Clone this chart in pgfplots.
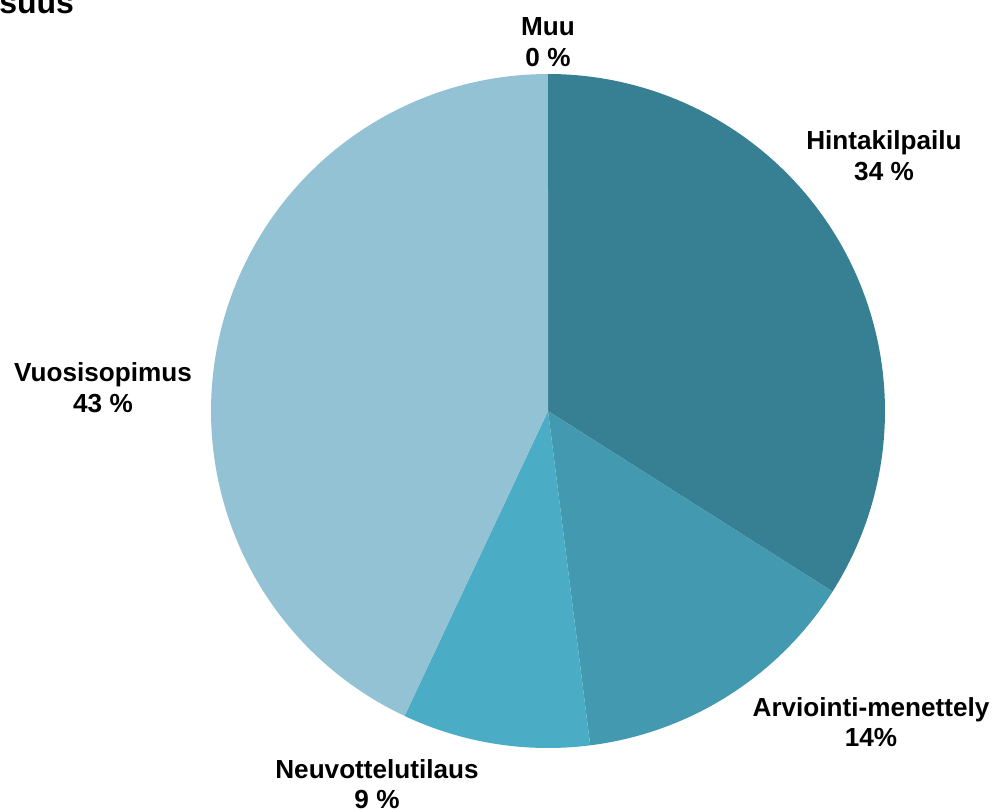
\documentclass[border=0pt]{standalone}
\usepackage{pgfplots}
\pgfplotsset{compat=1.18}
\usepackage{fontspec}
\setmainfont{Liberation Sans}

\definecolor{cHinta}{HTML}{377F93}
\definecolor{cArvio}{HTML}{4399AF}
\definecolor{cNeuvo}{HTML}{4BACC6}
\definecolor{cVuosi}{HTML}{93C2D4}

% shares in percent, clockwise from the top
\def\pHinta{34}
\def\pArvio{14}
\def\pNeuvo{9}
\def\pVuosi{43}
\def\pMuu{0}

\tikzset{lbl/.style = {font=\fontsize{19.6}{23}\selectfont\bfseries, align=center}}

\begin{document}
\begin{tikzpicture}
    \pgfmathsetmacro\aA{3.6*\pHinta}
    \pgfmathsetmacro\aB{\aA+3.6*\pArvio}
    \pgfmathsetmacro\aC{\aB+3.6*\pNeuvo}
    \pgfmathsetmacro\aD{\aC+3.6*\pVuosi}

    \begin{axis}[
        scale only axis,
        width     = 747.75pt,
        height    = 609pt,
        xmin      = 0,
        xmax      = 997,
        ymin      = 0,
        ymax      = 812,
        y dir     = reverse,
        hide axis,
        clip      = false,
        samples   = 120,
        variable  = \t]

        \addplot[fill=cHinta, draw=none, domain=0:\aA]
            ({548+337*sin(t)}, {411-337*cos(t)}) -- (axis cs:548,411) -- cycle;
        \addplot[fill=cArvio, draw=none, domain=\aA:\aB]
            ({548+337*sin(t)}, {411-337*cos(t)}) -- (axis cs:548,411) -- cycle;
        \addplot[fill=cNeuvo, draw=none, domain=\aB:\aC]
            ({548+337*sin(t)}, {411-337*cos(t)}) -- (axis cs:548,411) -- cycle;
        \addplot[fill=cVuosi, draw=none, domain=\aC:\aD]
            ({548+337*sin(t)}, {411-337*cos(t)}) -- (axis cs:548,411) -- cycle;

        \node[lbl] at (axis cs:548,42)  {Muu\\\pMuu\ \%};
        \node[lbl] at (axis cs:884,156) {Hintakilpailu\\\pHinta\ \%};
        \node[lbl] at (axis cs:871,722) {Arviointi-menettely\\\pArvio\%};
        \node[lbl] at (axis cs:377,784) {Neuvottelutilaus\\\pNeuvo\ \%};
        \node[lbl] at (axis cs:103,388) {Vuosisopimus\\\pVuosi\ \%};

        \node[anchor=base west, inner sep=0pt, font=\fontsize{24}{27}\selectfont\bfseries]
            at (axis cs:-1,14) {suus};
    \end{axis}
    \pgfresetboundingbox
    \useasboundingbox (current axis.south west) rectangle (current axis.north east);
\end{tikzpicture}
\end{document}
